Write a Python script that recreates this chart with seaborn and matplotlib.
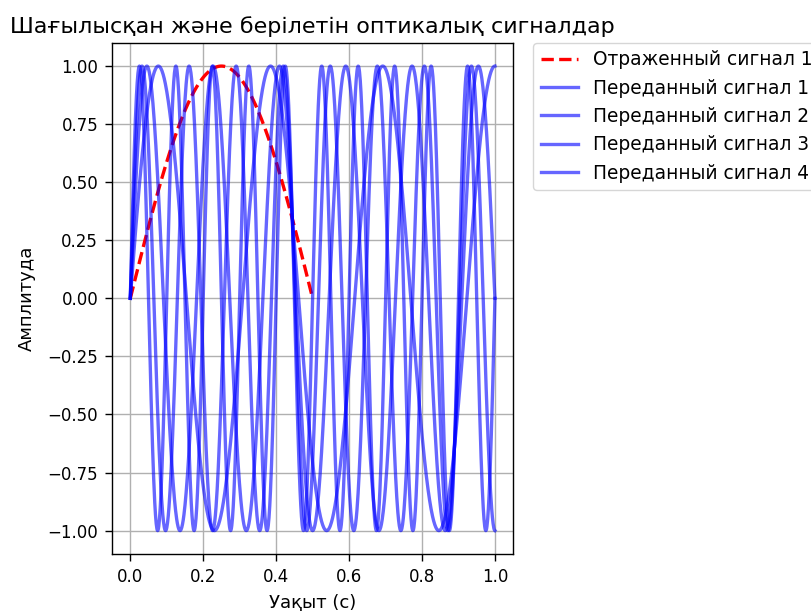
import numpy as np
import pandas as pd
import matplotlib
matplotlib.use("Agg")
import matplotlib.pyplot as plt
import seaborn as sns

# Data
title = "Шағылысқан және берілетін оптикалық сигналдар"
xlabel = "Уақыт (с)"
ylabel = "Амплитуда"
reflected_label = "Отраженный сигнал 1"
reflected_freq = 1.0          # one half-period over [0, 0.5]
reflected_end = 0.5
transmitted_labels = ["Переданный сигнал 1", "Переданный сигнал 2",
                      "Переданный сигнал 3", "Переданный сигнал 4"]
transmitted_freqs = [3.25, 5.5, 7.75, 10.0]   # read from peak spacing
t_end = 1.0

plt.rcParams['font.family'] = ['DejaVu Sans']
plt.rcParams['axes.linewidth'] = 1.0
plt.rcParams['xtick.major.size'] = 5
plt.rcParams['ytick.major.size'] = 5
plt.rcParams['xtick.major.pad'] = 5
plt.rcParams['ytick.major.pad'] = 5
plt.rcParams['xtick.major.width'] = 1.0
plt.rcParams['ytick.major.width'] = 1.0
plt.rcParams['grid.linewidth'] = 1.0

fig = plt.figure(figsize=(8.12, 6.12), dpi=100)
ax = fig.add_axes([0.138, 0.095, 0.494, 0.835])

t_ref = np.linspace(0, reflected_end, 500)
df_ref = pd.DataFrame({"t": t_ref, "y": np.sin(2 * np.pi * reflected_freq * t_ref)})
sns.lineplot(data=df_ref, x="t", y="y", ax=ax, color="red", linestyle="--",
             linewidth=2.4, label=reflected_label, estimator=None)

t = np.linspace(0, t_end, 1000)
for lab, f in zip(transmitted_labels, transmitted_freqs):
    df = pd.DataFrame({"t": t, "y": np.sin(2 * np.pi * f * t)})
    sns.lineplot(data=df, x="t", y="y", ax=ax, color="blue", alpha=0.6,
                 linewidth=2.4, label=lab, estimator=None)

ax.set_title(title, fontsize=16, pad=7)
ax.set_xlabel(xlabel, fontsize=13, labelpad=6)
ax.set_ylabel(ylabel, fontsize=13, labelpad=8)
ax.tick_params(labelsize=12)
ax.grid(True)
ax.legend(loc="upper left", bbox_to_anchor=(1.05, 1), borderaxespad=0,
          fontsize=13.4)

fig.savefig("out.png", dpi=100)
